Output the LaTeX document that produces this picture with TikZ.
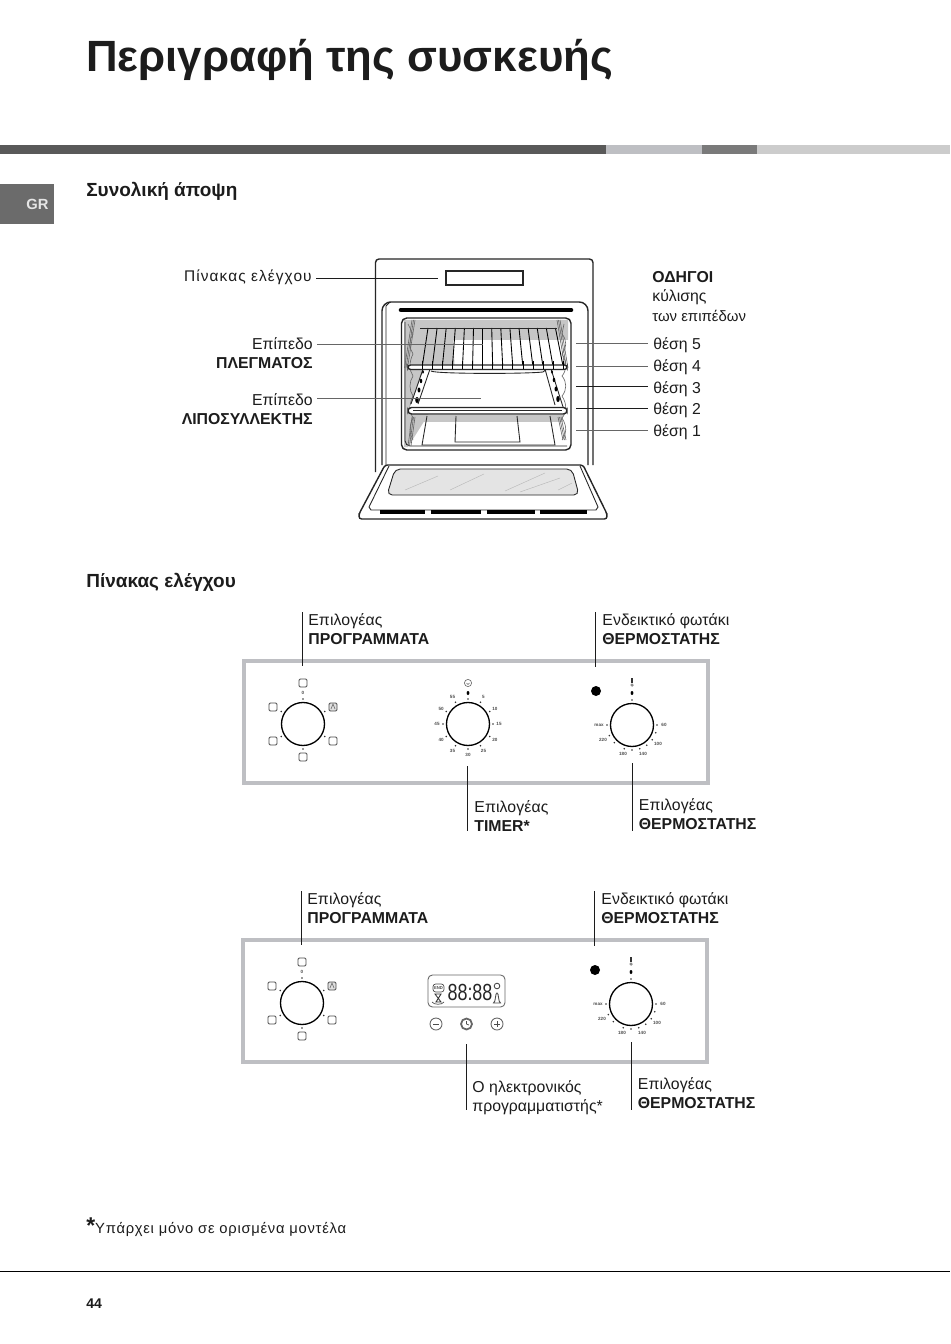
\documentclass[tikz,border=0pt]{standalone}
\usepackage{fontspec}
\setmainfont{Liberation Sans}
\usetikzlibrary{calc,positioning}
\definecolor{inktext}{HTML}{1C1C1C}
\definecolor{framegray}{HTML}{BEBFC3}
\definecolor{glassgray}{HTML}{E4E4E4}
\definecolor{shadegray}{HTML}{C6C6C6}
\newcommand{\wide}{\addfontfeature{LetterSpace=0.7}}
\newcommand{\wider}{\addfontfeature{LetterSpace=7}}
\tikzset{>=latex}
\tikzset{
  px/.style={x=0.02cm,y=-0.02cm},
  lab/.style={inner sep=0pt,anchor=north west,align=left,text=inktext,yshift=-1.1pt,
    font=\fontsize{9}{10.8}\selectfont},
  labr/.style={lab,anchor=north east,align=right},
  head/.style={inner sep=0pt,anchor=base west,text=inktext,
    font=\fontsize{10.8}{12}\selectfont\bfseries},
  leader/.style={draw=inktext,line width=0.55pt},
  fine/.style={draw=black!60,line width=0.35pt},
  oven/.style={draw=black!85,line width=0.5pt},
  ovenb/.style={draw=black!85,line width=0.8pt},
  knob/.style={draw=black,line width=0.75pt},
  keybox/.style={draw=black!70,line width=0.45pt,rounded corners=0.7pt},
  tick/.style={fill=black!80,inner sep=0pt,minimum size=1pt,circle},
  num/.style={inner sep=0pt,text=black!70,font=\fontsize{2.6}{3}\selectfont\bfseries},
}
% selector with the six positions
\newcommand{\progdial}[2]{
  \begin{scope}[shift={(#1,#2)}]
    \draw[knob] (0,0) circle (21.5);
    \foreach \a in {30,90,150,210,270,330}
      \node[tick] at (\a:25) {};
    \node[num] at (0,-31) {0};
    \draw[keybox] (-4,-45) rectangle (4,-37);
    \draw[keybox] (-34,-21) rectangle (-26,-13);
    \draw[keybox,fill=black!12] (26,-21) rectangle (34,-13);
    \draw[fine] (28,-15) -- (30,-20) -- (32,-15);
    \draw[keybox] (-34,13) rectangle (-26,21);
    \draw[keybox] (26,13) rectangle (34,21);
    \draw[keybox] (-4,29) rectangle (4,37);
  \end{scope}
}
% temperature selector with lamp (y runs downwards, so angles go clockwise)
\newcommand{\thermodial}[2]{
  \begin{scope}[shift={(#1,#2)}]
    \draw[knob] (0,0) circle (21.5);
    \foreach \a in {0,18,36,54,72,90,108,135,155,180,-90}
      \node[tick] at (\a:25) {};
    \node[num] at (32,0) {60};
    \node[num] at (26,19) {100};
    \node[num] at (11,29) {140};
    \node[num] at (-9,29) {180};
    \node[num] at (-29,15) {220};
    \node[num] at (-33,0) {max};
    \fill[black] (0,-32) ellipse (1.4 and 2);
    \draw[fine] (0,-40) circle (1.3);
    \draw[black!80,line width=0.7pt] (0,-47) -- (0,-42);
    \fill[black] (-36,-34) circle (5);
  \end{scope}
}
\begin{document}
\begin{tikzpicture}[px]
  \useasboundingbox (0,0) rectangle (950,1344);
  \fill[white] (0,0) rectangle (950,1344);
  % heading and bands
  \node[inner sep=0pt,anchor=base west,text=inktext,font=\fontsize{24.9}{28}\selectfont\bfseries]
    (title) at (86,72) {Περιγραφή της συσκευής};
  \fill[black!65] (0,145) rectangle (606,154);
  \fill[framegray] (606,145) rectangle (702,154);
  \fill[black!52] (702,145) rectangle (757,154);
  \fill[black!20] (757,145) rectangle (950,154);
  \fill[black!58] (0,184) rectangle (54,224);
  \node[inner sep=0pt,text=black!10,font=\fontsize{8.4}{10}\selectfont\bfseries] (tab) at (37.5,204.5) {GR};
  \node[head] (overview) at (86,197) {Συνολική άποψη};
  \node[head] (panelhead) at (86,587) {Πίνακας ελέγχου};

  % oven body
  \draw[ovenb,rounded corners=2pt] (375.5,472) -- (375.5,259) -- (593,259) -- (593,465);
  \draw[ovenb] (446,271) rectangle (523,285);
  \draw[ovenb,rounded corners=5pt] (382,465) -- (382,302) -- (588,302) -- (588,465);
  \draw[oven] (386,465) -- (386,306) -- (390,302);
  \draw[black,line width=2.6pt,line cap=round] (401,310) -- (571,310);
  % cavity
  \fill[shadegray] (404,320) -- (568,320) -- (568,340) -- (453,340) -- (455,372) -- (408,447) -- (404,447) -- cycle;
  \fill[shadegray] (411,415) rectangle (563,422);
  \draw[ovenb,rounded corners=3pt] (401.5,318) rectangle (571,450);
  \draw[oven,rounded corners=3pt] (405,322) -- (405,446) -- (567,446);
  % side runners
  \foreach \s in {0,1.5,3} {
    \draw[fine] (415-\s,320) -- (407.5-\s,368);
    \draw[fine] (557+\s,320) -- (565+\s,368);
    \draw[fine] (415-\s,417) -- (411-\s,446);
    \draw[fine] (558+\s,417) -- (563+\s,440);
  }
  \draw[fine] (408,324) -- (413,334)
    \foreach \y in {344,366,386,408,430} {
      .. controls (409,\y-4) and (409,\y+4) .. (413,\y+10)
    };
  \draw[fine] (564,324) -- (562,334)
    \foreach \y in {344,366,386,408,430} {
      .. controls (567,\y-4) and (567,\y+4) .. (562,\y+10)
    };
  % rack
  \foreach \i in {0,...,14}
    \draw[black,line width=0.5pt] (428+\i*9.1,328) -- (422+\i*10.1,368);
  \draw[oven] (420,328) -- (557,328);
  % tray
  \fill[white] (424,369) -- (552,369) -- (564,407) -- (410,407) -- cycle;
  \draw[oven] (431,371) .. controls (435,374) and (525,374) .. (543,372) -- (548,368);
  \draw[oven] (423,369) -- (411,404);
  \draw[oven] (430,369) -- (418,404);
  \draw[oven] (545,369) -- (555,405);
  \draw[oven] (551,369) -- (564,410);
  \foreach \p/\q/\r in {423/372/1.3,421/381/1.6,419/390/1.8,417/400/2.2}
    \fill[black] (\p,\q) ellipse (\r*0.8 and \r*1.4);
  \foreach \p/\q/\r in {552/372/1.3,554/380/1.6,556/389/1.8,558/399/2.2}
    \fill[black] (\p,\q) ellipse (\r*0.8 and \r*1.4);
  \draw[ovenb,rounded corners=1.5pt,fill=white] (408,365) rectangle (567,369.5);
  \foreach \i in {0,...,14}
    \draw[black,line width=0.5pt] (422+\i*10.1,361) -- (422+\i*10.1,369.5);
  \draw[ovenb,rounded corners=2pt,fill=white] (408,407.5) rectangle (567,414);
  \draw[oven] (413,410) -- (562,410);
  % back of the cavity
  \draw[oven] (427,416) -- (422,445) -- (555,445) -- (550,416);
  \draw[oven] (456,416) -- (455,442) -- (520,442) -- (517,416);
  % door
  \draw[ovenb,rounded corners=1.5pt] (385,465) -- (359,514) -- (359,519) -- (607,519) -- (607,514) -- (583,465) -- cycle;
  \draw[oven] (389,466) -- (369,507) -- (371,510) -- (596,510) -- (598,507) -- (580,466);
  \draw[oven,fill=glassgray,rounded corners=3pt] (395,469) -- (572,469) -- (579,495) -- (387,495) -- cycle;
  \foreach \xa/\ya/\xb/\yb in {405/490/438/476,450/490/484/474,505/491/545/473,520/492/560/478,558/490/572/483}
    \draw[black!28,line width=0.25pt] (\xa,\ya) -- (\xb,\yb);
  \foreach \xa/\xb in {380/425,431/481,487/535,540/587}
    \draw[black,line width=1.8pt] (\xa,512) -- (\xb,512);

  % oven labels
  \node[labr,font=\fontsize{8.8}{10.8}\selectfont\wider] (paneltxt) at (312,268) {Πίνακας ελέγχου};
  \node[labr] (racktxt) at (313,335) {Επίπεδο\\\textbf{ΠΛΕΓΜΑΤΟΣ}};
  \node[labr] (traytxt) at (313,391) {Επίπεδο\\\textbf{ΛΙΠΟΣΥΛΛΕΚΤΗΣ}};
  \node[lab,font=\fontsize{9}{11.1}\selectfont] (guidetxt) at (652,269) {\textbf{ΟΔΗΓΟΙ}\\κύλισης\\{\fontsize{8.5}{11.1}\selectfont των επιπέδων}};
  \foreach \n/\y in {5/335,4/357,3/379,2/400,1/422}
    \node[lab] (pos\n) at (653,\y) {θέση \n};
  \coordinate (panelend) at (438,278);
  \coordinate (panelstart) at (316,278);
  \coordinate (rackstart) at (317,344);
  \coordinate (rackend) at (483,344);
  \coordinate (traystart) at (317,398.5);
  \coordinate (trayend) at (481,398.5);
  \draw[leader] (panelstart) -- (panelend);
  \draw[fine] (rackstart) -- (rackend);
  \draw[fine] (traystart) -- (trayend);
  \foreach \n/\y/\k in {5/343/fine,4/366/fine,3/386.5/leader,2/408.5/leader,1/430.5/fine} {
    \coordinate (runner\n) at (576,\y);
    \coordinate (posend\n) at (648,\y);
    \draw[\k] (runner\n) -- (posend\n);
  }

  % first panel
  \draw[framegray,line width=2.6pt] (244.2,661) rectangle (708,783);
  \progdial{303}{724}
  \draw[knob] (468,724) circle (21.5);
  \foreach \a/\m in {-60/5,-30/10,0/15,30/20,60/25,90/30,120/35,150/40,180/45,210/50,240/55} {
    \node[tick] at ($(468,724)+(\a:25)$) {};
    \node[num] at ($(468,724)+(\a:31)$) {\m};
  }
  \node[tick] at (468,699) {};
  \fill[black] (468,693) ellipse (1.4 and 2);
  \draw[fine] (468,683) circle (3.6);
  \draw[fine] (466.5,683) -- (468,684.5) -- (469.5,683);
  \thermodial{632}{725}

  \node[lab] (progA) at (308,611) {\wide Επιλογέας\\\textbf{ΠΡΟΓΡΑΜΜΑΤΑ}};
  \node[lab] (lampA) at (602,611) {\wide Ενδεικτικό φωτάκι\\\textbf{ΘΕΡΜΟΣΤΑΤΗΣ}};
  \node[lab] (timerA) at (474,798) {\wide Επιλογέας\\\textbf{TIMER*}};
  \node[lab] (thermoA) at (638.5,796) {\wide Επιλογέας\\\textbf{ΘΕΡΜΟΣΤΑΤΗΣ}};
  \coordinate (progAa) at (302.5,612);
  \coordinate (progAb) at (302.5,666);
  \coordinate (lampAa) at (595.5,612);
  \coordinate (lampAb) at (595.5,667);
  \coordinate (timerAa) at (467,766);
  \coordinate (timerAb) at (467,831);
  \coordinate (thermoAa) at (632.5,763);
  \coordinate (thermoAb) at (632.5,831);
  \foreach \a/\b in {progAa/progAb,lampAa/lampAb,timerAa/timerAb,thermoAa/thermoAb}
    \draw[leader] (\a) -- (\b);

  % second panel
  \draw[framegray,line width=2.6pt] (243.2,940) rectangle (707,1062);
  \progdial{302}{1003}
  \thermodial{631}{1004}
  % display
  \draw[black!60,line width=0.5pt,rounded corners=2.5pt] (428,975) rectangle (505,1007);
  \node[inner sep=0pt,yscale=1.3,text=black!85,font=\fontsize{10.2}{11}\selectfont] (clock) at (470,992) {88:88};
  \draw[black!70,line width=0.4pt,rounded corners=1.5pt] (433,984) rectangle (444,992);
  \node[num,font=\fontsize{2.4}{3}\selectfont\bfseries] (endtxt) at (438.5,988) {END};
  \draw[black!80,line width=0.5pt] (435,994) -- (441,994) -- (436,1002) -- (441,1002) -- cycle;
  \draw[black!70,line width=0.4pt] (432,1002) .. controls (434,1005) and (442,1005) .. (444,1002);
  \draw[black!70,line width=0.5pt] (497,986) circle (2.8);
  \draw[black!70,line width=0.5pt] (493.5,1003) .. controls (496,1002) and (495,993) .. (497,993)
    .. controls (499,993) and (498,1002) .. (500.5,1003) -- cycle;
  % keys
  \draw[black!60,line width=0.5pt] (436,1024) circle (6);
  \draw[black!70,line width=0.5pt] (433,1024) -- (439,1024);
  \draw[black!60,line width=1pt] (466.5,1024) circle (5.5);
  \draw[black!70,line width=0.4pt] (466.5,1021) -- (466.5,1024) -- (469,1025);
  \draw[black!60,line width=0.5pt] (497,1024) circle (6);
  \draw[black!70,line width=0.5pt] (494,1024) -- (500,1024) (497,1021) -- (497,1027);

  \node[lab] (progB) at (307,890) {\wide Επιλογέας\\\textbf{ΠΡΟΓΡΑΜΜΑΤΑ}};
  \node[lab] (lampB) at (601,890) {\wide Ενδεικτικό φωτάκι\\\textbf{ΘΕΡΜΟΣΤΑΤΗΣ}};
  \node[lab] (timerB) at (472,1078) {\wide Ο ηλεκτρονικός\\προγραμματιστής*};
  \node[lab] (thermoB) at (637.5,1075) {\wide Επιλογέας\\\textbf{ΘΕΡΜΟΣΤΑΤΗΣ}};
  \coordinate (progBa) at (301.5,891);
  \coordinate (progBb) at (301.5,945);
  \coordinate (lampBa) at (594.5,891);
  \coordinate (lampBb) at (594.5,946);
  \coordinate (timerBa) at (466,1044);
  \coordinate (timerBb) at (466,1110);
  \coordinate (thermoBa) at (631.5,1042);
  \coordinate (thermoBb) at (631.5,1110);
  \foreach \a/\b in {progBa/progBb,lampBa/lampBb,timerBa/timerBb,thermoBa/thermoBb}
    \draw[leader] (\a) -- (\b);

  % foot of the page
  \node[inner sep=0pt,anchor=base west,text=inktext,font=\fontsize{8.4}{10}\selectfont\addfontfeature{LetterSpace=5}] (note) at (86,1233)
    {{\fontsize{13}{10}\selectfont\bfseries *}Υπάρχει μόνο σε ορισμένα μοντέλα};
  \draw[black,line width=0.55pt] (0,1271.5) -- (950,1271.5);
  \node[inner sep=0pt,anchor=base west,text=inktext,font=\fontsize{8}{10}\selectfont\bfseries] (pageno) at (86,1308) {44};
\end{tikzpicture}
\end{document}
